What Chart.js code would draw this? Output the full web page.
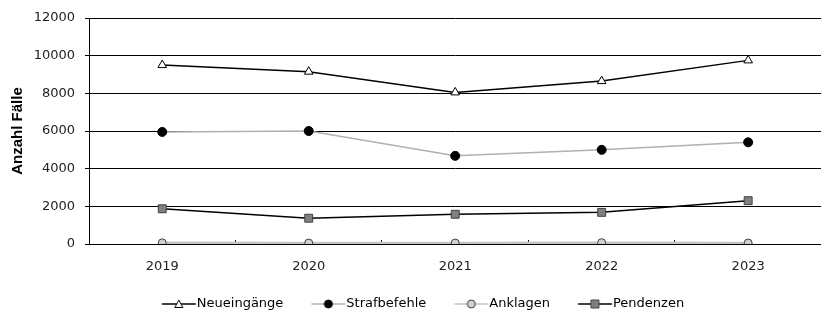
<!DOCTYPE html>
<html>
<head>
<meta charset="utf-8">
<script src="https://cdn.jsdelivr.net/npm/chart.js"></script>
<style>
  html, body { margin: 0; padding: 0; background: #fff; overflow: hidden; }
  #wrap { width: 828px; height: 315px; }
</style>
</head>
<body>
<div id="wrap"><canvas id="myChart"></canvas></div>
<script>
var years = ["2019", "2020", "2021", "2022", "2023"];
var neueingaenge = [9500, 9150, 8050, 8650, 9750];
var strafbefehle = [5950, 6000, 4680, 5000, 5400];
var anklagen = [60, 50, 50, 70, 50];
var pendenzen = [1870, 1370, 1580, 1680, 2300];
var yTicks = [0, 2000, 4000, 6000, 8000, 10000, 12000];

var padBottom = -5.5;

// legend sample: line with marker, with blank room on the left as spacing
function legendSample(lineColor, lineWidth, style, fill, stroke) {
  var c = document.createElement("canvas");
  c.width = 60;
  c.height = 12;
  var ctx = c.getContext("2d");
  var mx = 41.75, x0 = mx - 17, x1 = mx + 17;
  ctx.strokeStyle = lineColor;
  ctx.lineWidth = lineWidth;
  ctx.beginPath();
  ctx.moveTo(x0, 6);
  ctx.lineTo(x1, 6);
  ctx.stroke();
  ctx.fillStyle = fill;
  ctx.strokeStyle = stroke;
  ctx.lineWidth = 1;
  ctx.beginPath();
  if (style == "triangle") {
    ctx.moveTo(mx, 2);
    ctx.lineTo(mx + 4, 9.5);
    ctx.lineTo(mx - 4, 9.5);
    ctx.closePath();
  } else if (style == "rect") {
    ctx.rect(mx - 4, 2, 8, 8);
  } else {
    ctx.arc(mx, 6, 4, 0, Math.PI * 2);
  }
  ctx.fill();
  ctx.stroke();
  return c;
}

var datasets = [{
  label: "Neueingänge",
  data: neueingaenge,
  borderColor: "#000000",
  borderWidth: 1.5,
  pointStyle: "triangle",
  pointRadius: 5,
  pointBackgroundColor: "#ffffff",
  pointBorderColor: "#000000",
  pointBorderWidth: 1,
  sample: legendSample("#000000", 1.5, "triangle", "#ffffff", "#000000")
}, {
  label: "Strafbefehle",
  data: strafbefehle,
  borderColor: "#b0b0b0",
  borderWidth: 1.5,
  pointStyle: "circle",
  pointRadius: 4.5,
  pointBackgroundColor: "#000000",
  pointBorderColor: "#000000",
  pointBorderWidth: 1,
  sample: legendSample("#b0b0b0", 1.5, "circle", "#000000", "#000000")
}, {
  label: "Anklagen",
  data: anklagen,
  borderColor: "#c4c4c4",
  borderWidth: 2.5,
  pointStyle: "circle",
  pointRadius: 4,
  pointBackgroundColor: "#d0d0d0",
  pointBorderColor: "#404040",
  pointBorderWidth: 1,
  sample: legendSample("#c4c4c4", 1.5, "circle", "#d0d0d0", "#404040")
}, {
  label: "Pendenzen",
  data: pendenzen,
  borderColor: "#000000",
  borderWidth: 1.5,
  pointStyle: "rect",
  pointRadius: 5.6,
  pointBackgroundColor: "#808080",
  pointBorderColor: "#404040",
  pointBorderWidth: 1,
  sample: legendSample("#000000", 1.5, "rect", "#808080", "#404040")
}];

new Chart("myChart", {
  type: "line",
  data: {
    labels: years,
    datasets: datasets
  },
  options: {
    responsive: true,
    maintainAspectRatio: false,
    animation: false,
    layout: { padding: { top: 18, left: 0, right: 0, bottom: padBottom } },
    elements: { line: { tension: 0 } },
    plugins: {
      tooltip: { enabled: false },
      legend: {
        display: true,
        position: "bottom",
        labels: {
          usePointStyle: true,
          pointStyleWidth: 46.5,
          padding: 10,
          color: "#222222",
          font: { family: "DejaVu Sans", size: 13 },
          generateLabels: function (chart) {
            return chart.data.datasets.map(function (ds, i) {
              return {
                text: ds.label,
                pointStyle: ds.sample,
                fillStyle: ds.pointBackgroundColor,
                strokeStyle: ds.borderColor,
                lineWidth: 0,
                hidden: false,
                datasetIndex: i
              };
            });
          }
        }
      }
    },
    scales: {
      x: {
        offset: true,
        grid: {
          offset: true,
          drawOnChartArea: false,
          drawTicks: true,
          tickLength: -4,
          color: "#000000"
        },
        border: { color: "#000000", width: 1 },
        ticks: {
          padding: 19,
          color: "#222222",
          font: { family: "DejaVu Sans", size: 13 }
        },
        afterFit: function (s) {
          s.height = s.chart.height - padBottom - 244 - s.chart.legend.height;
        }
      },
      y: {
        min: 0,
        max: 12000,
        afterBuildTicks: function (s) {
          s.ticks = yTicks.map(function (v) { return { value: v }; });
        },
        grid: {
          color: "#000000",
          lineWidth: 1,
          drawTicks: true,
          tickLength: 4
        },
        border: { color: "#000000", width: 1 },
        ticks: {
          padding: 10,
          color: "#222222",
          font: { family: "DejaVu Sans", size: 13 },
          callback: function (v) { return String(v); }
        },
        title: {
          display: true,
          text: "Anzahl Fälle",
          color: "#000000",
          font: { family: "Liberation Sans", size: 15, weight: "bold" },
          padding: { top: 9, bottom: 4 }
        },
        afterFit: function (s) {
          s.width = 89;
        }
      }
    }
  }
});
</script>
</body>
</html>
